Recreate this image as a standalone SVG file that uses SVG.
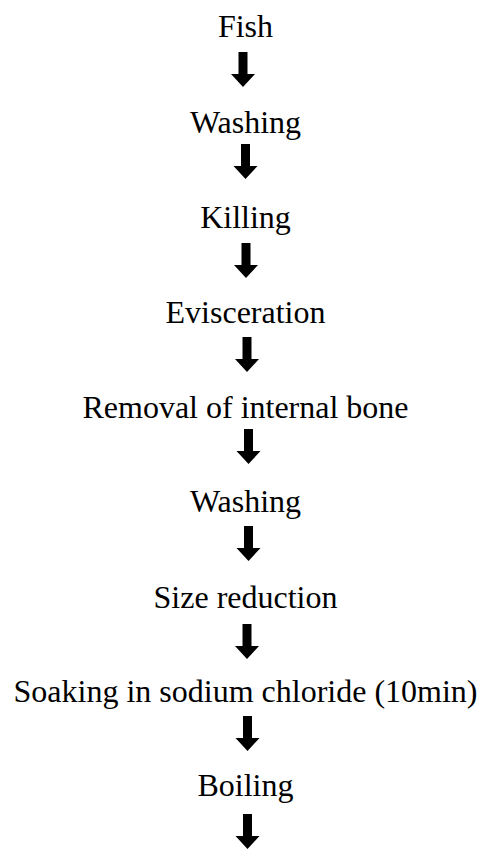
<svg xmlns="http://www.w3.org/2000/svg" xmlns:xlink="http://www.w3.org/1999/xlink" width="483" height="850" viewBox="0 0 483 850">
<style>
.lbl{font-family:"Liberation Serif","Times New Roman",serif;font-size:32px;fill:#000;text-anchor:middle}
.arr{fill:#000}
</style>
<defs>
<path id="arrow" d="M-4.5,0 H4.5 V22 H12 L0,35 L-12,22 H-4.5 Z"/>
</defs>
<rect width="483" height="850" fill="#fff"/>
<g id="n1"><text class="lbl" x="245.5" y="37">Fish</text></g>
<g id="n2"><text class="lbl" x="245.5" y="133">Washing</text></g>
<g id="n3"><text class="lbl" x="245.5" y="228">Killing</text></g>
<g id="n4"><text class="lbl" x="245.5" y="323">Evisceration</text></g>
<g id="n5"><text class="lbl" x="245.5" y="418">Removal of internal bone</text></g>
<g id="n6"><text class="lbl" x="245.5" y="512">Washing</text></g>
<g id="n7"><text class="lbl" x="245.5" y="608">Size reduction</text></g>
<g id="n8"><text class="lbl" x="245.5" y="702">Soaking in sodium chloride (10min)</text></g>
<g id="n9"><text class="lbl" x="245.5" y="796">Boiling</text></g>
<g id="connectors" class="arr">
<use xlink:href="#arrow" x="243" y="52"/>
<use xlink:href="#arrow" x="245.5" y="144"/>
<use xlink:href="#arrow" x="246" y="243"/>
<use xlink:href="#arrow" x="247" y="337"/>
<use xlink:href="#arrow" x="248.5" y="429"/>
<use xlink:href="#arrow" x="248.5" y="526"/>
<use xlink:href="#arrow" x="247" y="624"/>
<use xlink:href="#arrow" x="247.5" y="716"/>
<use xlink:href="#arrow" x="247.5" y="814"/>
</g>
</svg>
